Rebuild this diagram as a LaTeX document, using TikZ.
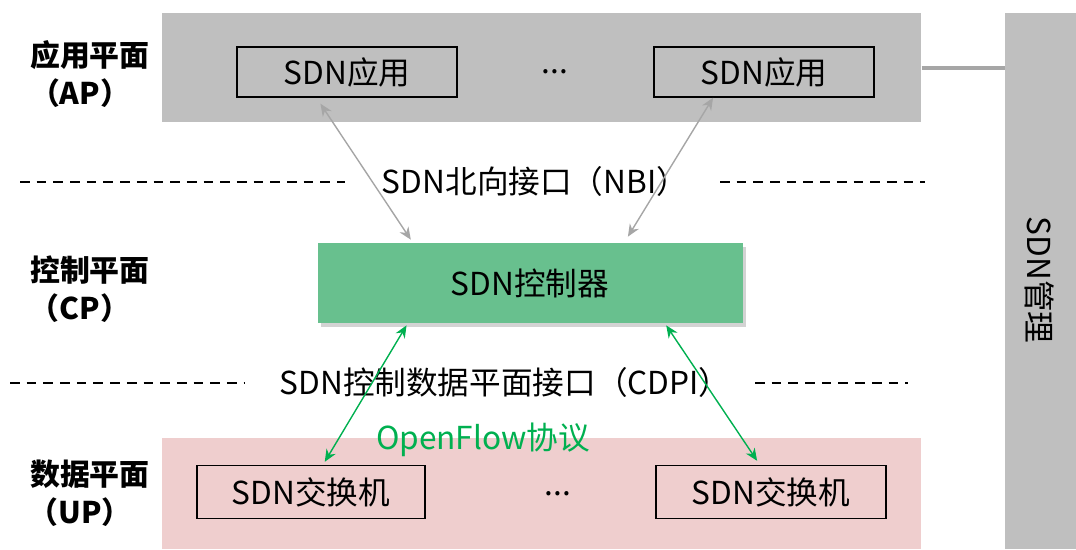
\documentclass[tikz,border=0pt]{standalone}
\usepackage{fontspec}
\setmainfont{Noto Sans CJK SC}
\usepackage{tikz}
\usetikzlibrary{arrows.meta,calc,shadows,positioning}

\definecolor{apgray}{RGB}{191,191,191}
\definecolor{linegray}{RGB}{166,166,166}
\definecolor{ctrlgreen}{RGB}{104,192,142}
\definecolor{ofgreen}{RGB}{0,176,80}
\definecolor{uppink}{RGB}{239,206,206}
\definecolor{linepink}{RGB}{244,184,168}

\tikzset{
  band/.style={fill=#1, draw=none, inner sep=0pt, anchor=north west},
  elembox/.style={draw=black, thick, minimum width=220*0.02cm, minimum height=50*0.02cm,
    inner sep=0pt, font=\fontsize{18}{21}\selectfont},
  planelabel/.style={font=\fontsize{17}{20}\selectfont\bfseries, align=center},
  iflabel/.style={font=\fontsize{18}{21}\selectfont},
  sep/.style={dashed, dash pattern=on 5.5pt off 4pt, thick},
  nbiarrow/.style={{Stealth[length=7pt,width=6pt]}-{Stealth[length=7pt,width=6pt]}, linegray, thick},
  cdpiarrow/.style={{Stealth[length=7pt,width=6pt]}-{Stealth[length=7pt,width=6pt]}, ofgreen, thick}
}

\begin{document}
\begin{tikzpicture}[x=0.02cm, y=-0.02cm]
  \useasboundingbox (0,0) rectangle (1076,549);

  % planes
  \node[band=apgray, minimum width=759*0.02cm, minimum height=109*0.02cm] (apband) at (162,13) {};
  \node[band=uppink, minimum width=759*0.02cm, minimum height=111*0.02cm] (upband) at (162,438) {};
  \node[band=apgray, minimum width=71*0.02cm, minimum height=536*0.02cm] (mgmt) at (1005,13) {};
  \node[rotate=-90, iflabel] (mgmttext) at (1040,280) {SDN管理};

  % plane labels
  \node[planelabel] (aplabel) at (90,55) {应用平面};
  \node[planelabel] (apabbr) at (80,93) {（AP）};
  \node[planelabel] (cplabel) at (90,270) {控制平面};
  \node[planelabel] (cpabbr) at (80,308) {（CP）};
  \node[planelabel] (uplabel) at (90,474) {数据平面};
  \node[planelabel] (upabbr) at (80,512) {（UP）};

  % applications
  \node[elembox] (app1) at (347,72) {SDN应用};
  \node[elembox] (app2) at (764,72) {SDN应用};
  \node[iflabel] (appdots) at (555,72) {...};

  % controller
  \node[fill=ctrlgreen, minimum width=425*0.02cm, minimum height=80*0.02cm, inner sep=0pt,
    drop shadow={shadow xshift=2pt, shadow yshift=-2pt, opacity=0.35},
    font=\fontsize{18}{21}\selectfont] (ctrl) at (530,283) {SDN控制器};

  % switches
  \node[elembox, minimum width=228*0.02cm, minimum height=53*0.02cm] (sw1) at (311,492) {SDN交换机};
  \node[elembox, minimum width=230*0.02cm, minimum height=53*0.02cm] (sw2) at (771,492) {SDN交换机};
  \node[iflabel] (swdots) at (558,494) {...};

  % interfaces
  \draw[sep] (20,182) -- (345,182);
  \draw[sep] (720,182) -- (925,182);
  \node[iflabel] (nbi) at (535,181) {SDN北向接口（NBI）};
  \draw[sep] (10,383) -- (245,383);
  \draw[sep] (755,383) -- (908,383);
  \node[iflabel] (cdpi) at (505,382) {SDN控制数据平面接口（CDPI）};
  \node[iflabel, text=ofgreen] (openflow) at (483,440) {OpenFlow协议};

  % connectors
  \draw[nbiarrow] ($(app1.south west)!0.38!(app1.south east)+(0,6)$) -- ($(ctrl.north west)!0.22!(ctrl.north east)+(0,-3)$);
  \draw[nbiarrow] ($(app2.south west)!0.27!(app2.south east)+(0,0)$) -- ($(ctrl.north west)!0.73!(ctrl.north east)+(0,-6)$);
  \draw[cdpiarrow] ($(ctrl.south west)!0.21!(ctrl.south east)+(0,2)$) -- ($(sw1.north west)!0.56!(sw1.north east)+(0,-3)$);
  \draw[cdpiarrow] ($(ctrl.south east)!0.18!(ctrl.south west)+(0,2)$) -- ($(sw2.north west)!0.44!(sw2.north east)+(0,-4)$);

  \draw[linegray, line width=2pt] (apband.east) -- (apband.east -| mgmt.west);
  \draw[ofgreen, line width=2pt] ($(ctrl.east)+(0,3)$) -- ($(ctrl.east)+(0,3)$ -| mgmt.west);
  \draw[linepink, line width=2pt] ($(upband.east)+(0,-2)$) -- ($(upband.east)+(0,-2)$ -| mgmt.west);
\end{tikzpicture}
\end{document}
